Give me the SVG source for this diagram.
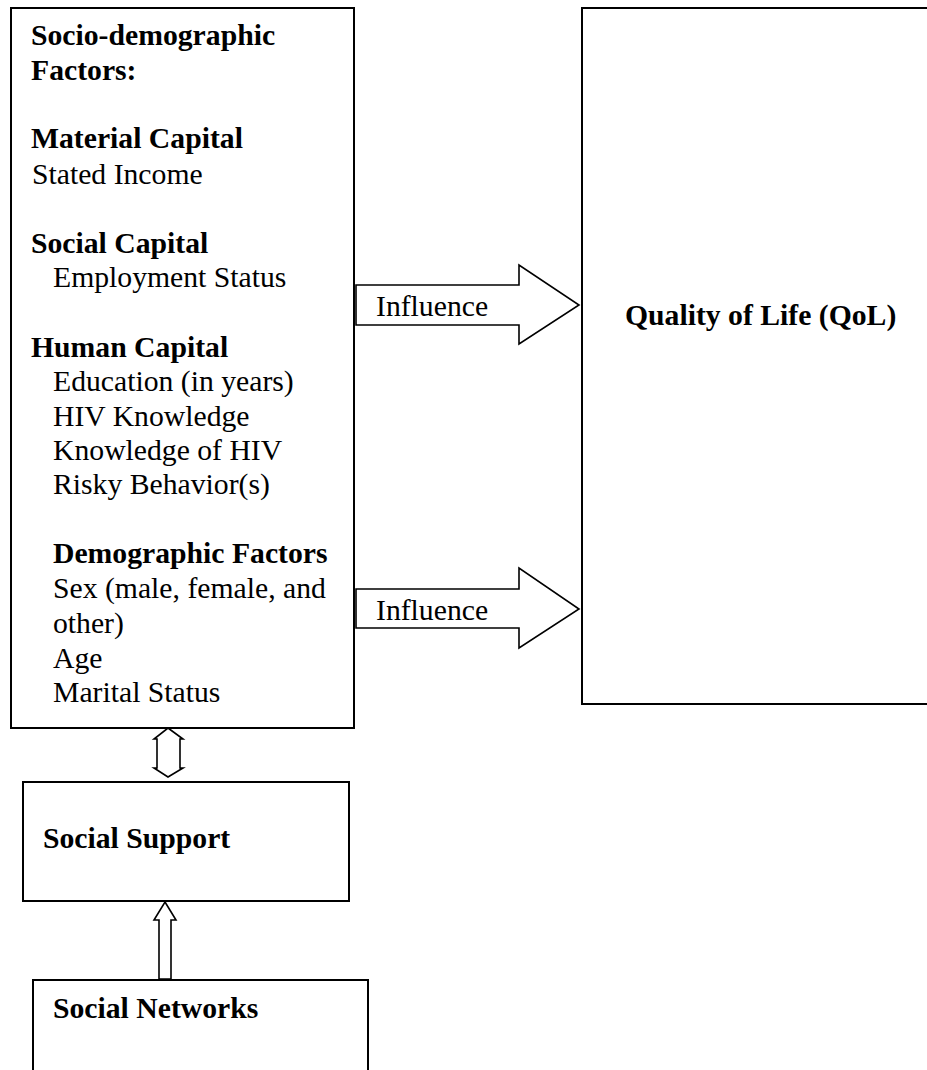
<svg xmlns="http://www.w3.org/2000/svg" width="927" height="1070" viewBox="0 0 927 1070">
<style>
.box{fill:#fff;stroke:#000;stroke-width:2}
.arr{fill:#fff;stroke:#000;stroke-width:1.6;stroke-linejoin:miter}
text{font-family:"Liberation Serif","Times New Roman",serif;font-size:29.7px;fill:#000}
.b{font-weight:bold}
</style>
<rect width="927" height="1070" fill="#fff"/>
<g id="connectors">
<polygon class="arr" points="356,285 519,285 519,265 579,305 519,344 519,325 356,325"/>
<polygon class="arr" points="356,589 519,589 519,568 579,609 519,648 519,628 356,628"/>
<polygon class="arr" points="168,728 183,739 180,739 180,768 183,768 168,777 154,768 157,768 157,739 154,739"/>
<polygon class="arr" points="165,902 176,920 171,920 171,979 159,979 159,920 154,920"/>
</g>
<g id="socio-demographic">
<rect class="box" x="11" y="8" width="343" height="720"/>
<text class="b" x="31" y="45">Socio-demographic</text>
<text class="b" x="31" y="80">Factors:</text>
<text class="b" x="31" y="148">Material Capital</text>
<text x="32" y="184">Stated Income</text>
<text class="b" x="31" y="253">Social Capital</text>
<text x="53" y="287">Employment Status</text>
<text class="b" x="31" y="357">Human Capital</text>
<text x="53" y="391">Education (in years)</text>
<text x="53" y="426">HIV Knowledge</text>
<text x="53" y="460">Knowledge of HIV</text>
<text x="53" y="494">Risky Behavior(s)</text>
<text class="b" x="53" y="563">Demographic Factors</text>
<text x="53" y="598">Sex (male, female, and</text>
<text x="53" y="633">other)</text>
<text x="53" y="668">Age</text>
<text x="53" y="702">Marital Status</text>
</g>
<g id="influence-labels">
<text x="376" y="316">Influence</text>
<text x="376" y="620">Influence</text>
</g>
<g id="qol">
<rect class="box" x="582" y="8" width="350" height="696"/>
<text class="b" x="625" y="325">Quality of Life (QoL)</text>
</g>
<g id="social-support">
<rect class="box" x="23" y="782" width="326" height="119"/>
<text class="b" x="43" y="848">Social Support</text>
</g>
<g id="social-networks">
<rect class="box" x="33" y="980" width="335" height="100"/>
<text class="b" x="53" y="1018">Social Networks</text>
</g>
</svg>
